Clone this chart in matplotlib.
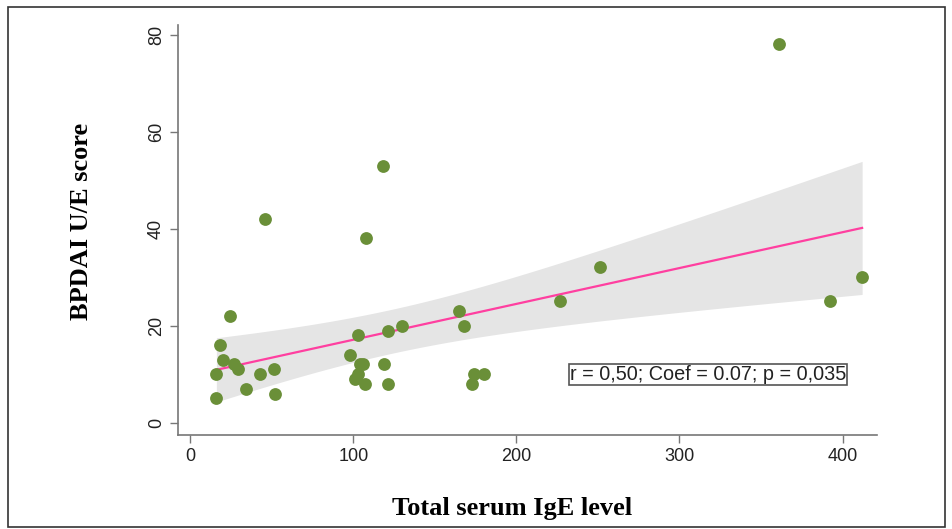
import matplotlib.pyplot as plt
import numpy as np
from matplotlib.patches import Rectangle

# data
ige = [361, 118, 46, 108, 251, 412, 227, 392, 24.5, 165, 168, 130, 121, 103,
       18, 98, 20, 27, 29, 104, 106, 119, 16, 43, 51.5, 103, 101, 174, 180,
       173, 107, 121, 34, 52, 16]
score = [78, 53, 42, 38, 32, 30, 25, 25, 22, 23, 20, 20, 19, 18,
         16, 14, 13, 12, 11, 12, 12, 12, 10, 10, 11, 10, 9, 10, 10,
         8, 8, 8, 7, 6, 5]
stats_text = 'r = 0,50; Coef = 0.07; p = 0,035'

x = np.array(ige, dtype=float)
y = np.array(score, dtype=float)

# linear fit with 95% confidence band
n = len(x)
b1, b0 = np.polyfit(x, y, 1)
resid = y - (b0 + b1 * x)
s = np.sqrt(np.sum(resid**2) / (n - 2))
xs = np.linspace(x.min(), x.max(), 200)
yhat = b0 + b1 * xs
se = s * np.sqrt(1 / n + (xs - x.mean())**2 / np.sum((x - x.mean())**2))
t = 2.035
lo, hi = yhat - t * se, yhat + t * se

fig = plt.figure(figsize=(9.52, 5.29), dpi=100)
ax = fig.add_axes([0.187, 0.178, 0.734, 0.775])

ax.fill_between(xs, lo, hi, color='#e5e5e5', lw=0, zorder=1)
ax.plot(xs, yhat, color='#ff3fa0', lw=1.6, zorder=2)
ax.scatter(x, y, s=85, color='#6a8f38', zorder=3, linewidths=0)

ax.set_xlim(-7.5, 421)
ax.set_ylim(-2.5, 82)
ax.set_xticks([0, 100, 200, 300, 400])
ax.set_yticks([0, 20, 40, 60, 80])

for side in ['top', 'right']:
    ax.spines[side].set_visible(False)
for side in ['left', 'bottom']:
    ax.spines[side].set_color('#777777')
    ax.spines[side].set_linewidth(1.2)
ax.tick_params(colors='#777777', length=6, width=1.0, labelcolor='#222222',
               labelsize=13)
for lab in ax.get_xticklabels() + ax.get_yticklabels():
    lab.set_family('Liberation Sans')
for lab in ax.get_yticklabels():
    lab.set_rotation(90)
    lab.set_va('center')

fig.text(512 / 952, 1 - 508 / 529, 'Total serum IgE level', family='Liberation Serif',
         fontweight='bold', fontsize=19, ha='center', va='center')
fig.text(82 / 952, 1 - 221 / 529, 'BPDAI U/E score', family='Liberation Serif',
         fontweight='bold', fontsize=19, ha='center', va='center', rotation=90)

ax.text(233, 10, stats_text, family='Liberation Sans', fontsize=14.3,
        va='center', ha='left', color='#222222',
        bbox=dict(boxstyle='square,pad=0.05', fc='white', ec='#555555', lw=1.2))

# frame around whole figure
fig.patches.append(Rectangle((0.008, 0.003), 0.985, 0.984, transform=fig.transFigure,
                             fill=False, ec='#333333', lw=1.2))

fig.savefig('out.png', dpi=100)
